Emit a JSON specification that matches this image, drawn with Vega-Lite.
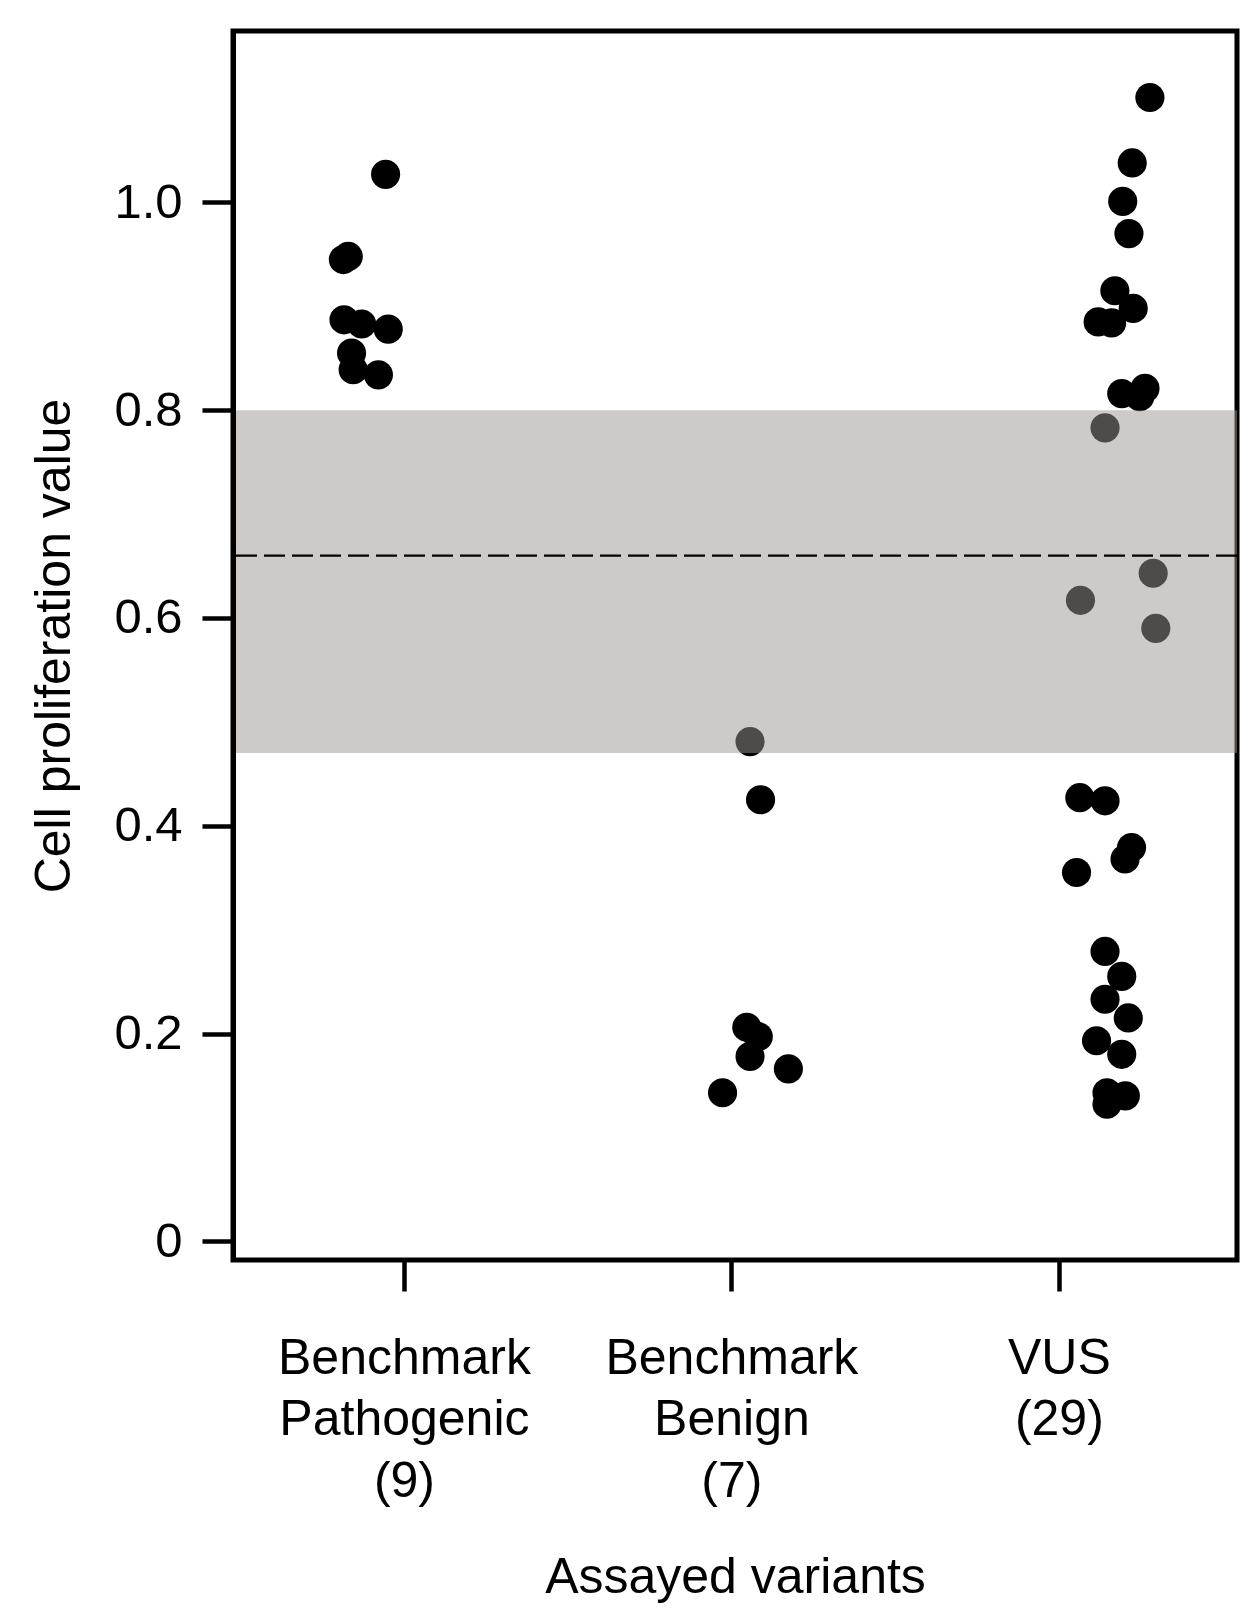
{
  "$schema": "https://vega.github.io/schema/vega-lite/v6.json",
  "width": 1004,
  "height": 1229,
  "autosize": {"type": "none"},
  "padding": {"left": 233, "top": 31, "right": 17, "bottom": 357},
  "background": "white",
  "config": {
    "view": {"stroke": "black", "strokeWidth": 5},
    "font": "Liberation Sans"
  },
  "datasets": {
    "points": [
      {"group": "Benchmark Pathogenic", "pos": 0.944, "value": 1.027},
      {"group": "Benchmark Pathogenic", "pos": 0.815, "value": 0.945},
      {"group": "Benchmark Pathogenic", "pos": 0.830, "value": 0.948},
      {"group": "Benchmark Pathogenic", "pos": 0.817, "value": 0.887},
      {"group": "Benchmark Pathogenic", "pos": 0.871, "value": 0.883},
      {"group": "Benchmark Pathogenic", "pos": 0.952, "value": 0.878},
      {"group": "Benchmark Pathogenic", "pos": 0.840, "value": 0.855},
      {"group": "Benchmark Pathogenic", "pos": 0.845, "value": 0.839},
      {"group": "Benchmark Pathogenic", "pos": 0.922, "value": 0.834},
      {"group": "Benchmark Benign", "pos": 2.057, "value": 0.481},
      {"group": "Benchmark Benign", "pos": 2.089, "value": 0.425},
      {"group": "Benchmark Benign", "pos": 2.047, "value": 0.206},
      {"group": "Benchmark Benign", "pos": 2.082, "value": 0.197},
      {"group": "Benchmark Benign", "pos": 2.057, "value": 0.178},
      {"group": "Benchmark Benign", "pos": 2.174, "value": 0.166},
      {"group": "Benchmark Benign", "pos": 1.973, "value": 0.143},
      {"group": "VUS", "pos": 3.278, "value": 1.101},
      {"group": "VUS", "pos": 3.224, "value": 1.038},
      {"group": "VUS", "pos": 3.195, "value": 1.001},
      {"group": "VUS", "pos": 3.214, "value": 0.970},
      {"group": "VUS", "pos": 3.171, "value": 0.915},
      {"group": "VUS", "pos": 3.227, "value": 0.898},
      {"group": "VUS", "pos": 3.120, "value": 0.885},
      {"group": "VUS", "pos": 3.161, "value": 0.884},
      {"group": "VUS", "pos": 3.192, "value": 0.816},
      {"group": "VUS", "pos": 3.263, "value": 0.821},
      {"group": "VUS", "pos": 3.247, "value": 0.813},
      {"group": "VUS", "pos": 3.141, "value": 0.783},
      {"group": "VUS", "pos": 3.288, "value": 0.643},
      {"group": "VUS", "pos": 3.066, "value": 0.617},
      {"group": "VUS", "pos": 3.296, "value": 0.590},
      {"group": "VUS", "pos": 3.064, "value": 0.427},
      {"group": "VUS", "pos": 3.141, "value": 0.424},
      {"group": "VUS", "pos": 3.222, "value": 0.379},
      {"group": "VUS", "pos": 3.202, "value": 0.368},
      {"group": "VUS", "pos": 3.054, "value": 0.355},
      {"group": "VUS", "pos": 3.141, "value": 0.279},
      {"group": "VUS", "pos": 3.192, "value": 0.255},
      {"group": "VUS", "pos": 3.141, "value": 0.233},
      {"group": "VUS", "pos": 3.212, "value": 0.215},
      {"group": "VUS", "pos": 3.115, "value": 0.193},
      {"group": "VUS", "pos": 3.192, "value": 0.180},
      {"group": "VUS", "pos": 3.147, "value": 0.143},
      {"group": "VUS", "pos": 3.203, "value": 0.140},
      {"group": "VUS", "pos": 3.147, "value": 0.132}
    ],
    "band": [{"value": 0.47, "value2": 0.80}],
    "threshold": [{"value": 0.66}]
  },
  "encoding": {
    "y": {
      "field": "value",
      "type": "quantitative",
      "scale": {"domain": [-0.018, 1.165], "nice": false, "zero": false},
      "axis": {
        "values": [0, 0.2, 0.4, 0.6, 0.8, 1.0],
        "labelExpr": "datum.value == 0 ? '0' : format(datum.value, '.1f')",
        "grid": false,
        "domain": true,
        "domainColor": "black",
        "domainWidth": 5,
        "tickSize": 31,
        "tickWidth": 4.5,
        "tickColor": "black",
        "labelFontSize": 49,
        "labelColor": "black",
        "labelPadding": 20,
        "title": "Cell proliferation value",
        "titleFontSize": 50,
        "titleFontWeight": "normal",
        "titleColor": "black",
        "titlePadding": 34,
        "zindex": 1
      }
    }
  },
  "layer": [
    {
      "data": {"name": "points"},
      "mark": {"type": "circle", "size": 850, "opacity": 1, "color": "black"},
      "encoding": {
        "x": {
          "field": "pos",
          "type": "quantitative",
          "scale": {"domain": [0.478, 3.544], "nice": false, "zero": false},
          "axis": {
            "orient": "bottom",
            "values": [1, 2, 3],
            "labelExpr": "datum.value == 1 ? ['Benchmark', 'Pathogenic', '(9)'] : datum.value == 2 ? ['Benchmark', 'Benign', '(7)'] : ['VUS', '(29)']",
            "grid": false,
            "domain": false,
            "tickSize": 31,
            "tickWidth": 4.5,
            "tickColor": "black",
            "labelFontSize": 50,
            "labelColor": "black",
            "labelLineHeight": 61.5,
            "labelPadding": 42,
            "labelAngle": 0,
            "labelLimit": 0,
            "labelFlush": false,
            "labelOverlap": false,
            "title": "Assayed variants",
            "titleFontSize": 50,
            "titleFontWeight": "normal",
            "titleColor": "black",
            "titlePadding": 92
          }
        }
      }
    },
    {
      "data": {"name": "band"},
      "mark": {"type": "rect", "color": "#9b958f", "opacity": 0.5},
      "encoding": {"y2": {"field": "value2"}}
    },
    {
      "data": {"name": "threshold"},
      "mark": {"type": "rule", "color": "black", "strokeWidth": 2.2, "strokeDash": [21, 7]},
      "encoding": {}
    }
  ]
}
